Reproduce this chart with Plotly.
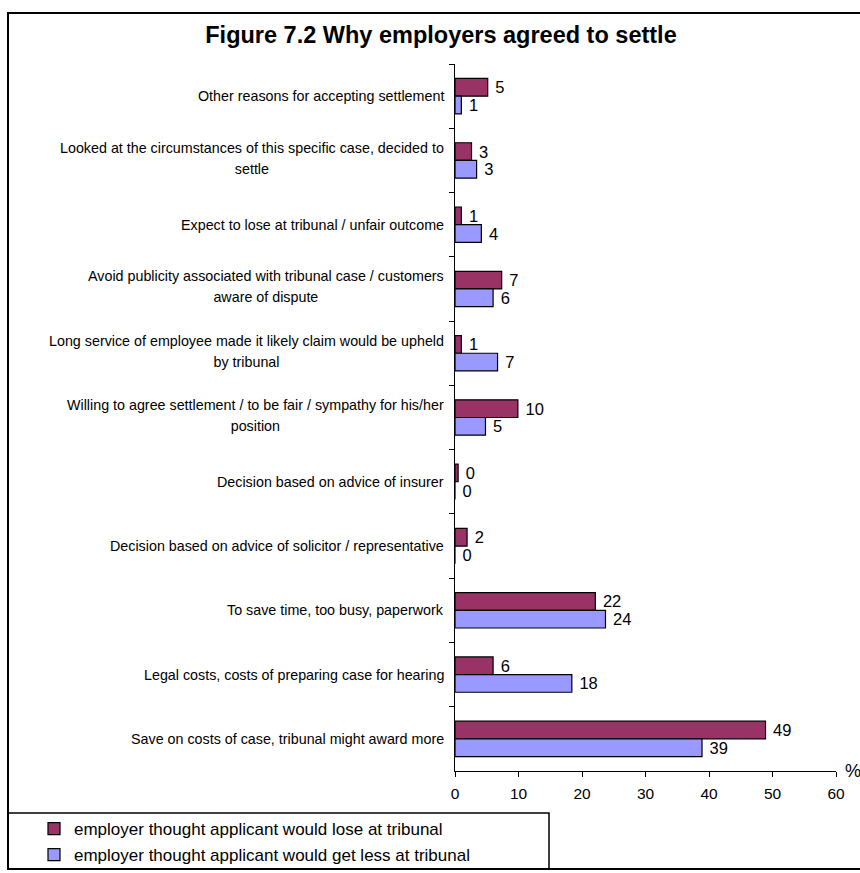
import plotly.graph_objects as go

# Reasons, listed top to bottom; "<br>" marks where a label wraps
categories = [
    "Other reasons for accepting settlement",
    "Looked at the circumstances of this specific case, decided to<br>settle",
    "Expect to lose at tribunal / unfair outcome",
    "Avoid publicity associated with tribunal case / customers<br>aware of dispute",
    "Long service of employee made it likely claim would be upheld<br>by tribunal",
    "Willing to agree settlement / to be fair / sympathy for his/her<br>position",
    "Decision based on advice of insurer",
    "Decision based on advice of solicitor / representative",
    "To save time, too busy, paperwork",
    "Legal costs, costs of preparing case for hearing",
    "Save on costs of case, tribunal might award more",
]

series_lose_name = "employer thought applicant would lose at tribunal"
series_less_name = "employer thought applicant would get less at tribunal"

# Percentages of employers giving each reason
lose_values = [5.15, 2.6, 1.0, 7.35, 1.0, 9.9, 0.49, 1.9, 22.1, 6.0, 48.9]
less_values = [1.0, 3.4, 4.15, 6.0, 6.7, 4.8, 0.0, 0.0, 23.7, 18.4, 38.9]

x_ticks = [0, 10, 20, 30, 40, 50, 60]

FONT = "Liberation Sans, Arial, sans-serif"
W, H = 860, 873
ML, MR, MT, MB = 455, 24, 64, 102
PW, PH = W - ML - MR, H - MT - MB


def px(x):
    return (x - ML) / PW


def py(y):
    return (H - MB - y) / PH


fig = go.Figure()

for i, (name, vals, color) in enumerate([
    (series_lose_name, lose_values, "#993366"),
    (series_less_name, less_values, "#9999FF"),
]):
    fig.add_trace(go.Bar(
        y=categories,
        x=vals,
        orientation="h",
        name=name,
        legendgroup=f"g{i}",
        marker=dict(color=color, line=dict(color="black", width=1.2)),
        texttemplate="\u00a0%{x:.0f}",
        textposition="outside",
        textfont=dict(family=FONT, size=16.5, color="black"),
        constraintext="none",
        cliponaxis=False,
        hoverinfo="skip",
    ))

# Category labels: right-aligned block, lines centred on each other
annotations = []
for cat in categories:
    lines = cat.split("<br>")
    text = "<br>".join(f"<span style='font-size:14.3px'>{ln}</span>" for ln in lines)
    annotations.append(dict(
        x=0, xref="paper", y=cat, yref="y",
        xanchor="right", yanchor="middle", xshift=-9,
        yshift=2 if len(lines) > 1 else 0,
        text=text, align="center", showarrow=False,
        font=dict(family=FONT, size=16.5, color="black"),
    ))

annotations.append(dict(
    x=px(843), xref="paper", y=py(771), yref="paper",
    xanchor="left", yanchor="middle", text="%", showarrow=False,
    font=dict(family=FONT, size=18, color="black"),
))

shapes = [
    # outer frame
    dict(type="rect", xref="paper", yref="paper",
         x0=px(8), x1=px(880), y0=py(869), y1=py(13),
         line=dict(color="black", width=2)),
    # legend box
    dict(type="rect", xref="paper", yref="paper",
         x0=px(8), x1=px(549), y0=py(869), y1=py(813),
         line=dict(color="black", width=1.5)),
]

fig.update_layout(
    width=W, height=H,
    margin=dict(l=ML, r=MR, t=MT, b=MB, pad=0, autoexpand=False),
    paper_bgcolor="white", plot_bgcolor="white",
    barmode="group", bargap=0.45, bargroupgap=0,
    font=dict(family=FONT, color="black"),
    title=dict(
        text="<b>Figure 7.2 Why employers agreed to settle</b>",
        x=441 / W, xref="container", xanchor="center",
        y=1 - 35 / H, yref="container", yanchor="middle",
        font=dict(family=FONT, size=23.5, color="black"),
    ),
    xaxis=dict(
        range=[0, 60], tickvals=x_ticks, ticktext=[str(t) for t in x_ticks],
        showline=True, linecolor="black", linewidth=1.2,
        ticks="outside", ticklen=5, tickcolor="black", tickwidth=1.2,
        showgrid=False, zeroline=False,
        tickfont=dict(family=FONT, size=15.5, color="black"),
        ticklabelstandoff=3, automargin=False,
        fixedrange=True,
    ),
    yaxis=dict(
        type="category", autorange="reversed",
        showline=True, linecolor="black", linewidth=1.2,
        ticks="outside", ticklen=5, tickcolor="black", tickwidth=1.2,
        tickson="boundaries", showticklabels=False, automargin=False,
        showgrid=False, zeroline=False, fixedrange=True,
    ),
    legend=dict(
        x=px(34), y=py(811), xanchor="left", yanchor="top",
        font=dict(family=FONT, size=17, color="black"),
        bgcolor="rgba(0,0,0,0)", borderwidth=0,
        itemwidth=30, tracegroupgap=1,
    ),
    showlegend=True,
    annotations=annotations,
    shapes=shapes,
)

fig.write_html("out.html")
